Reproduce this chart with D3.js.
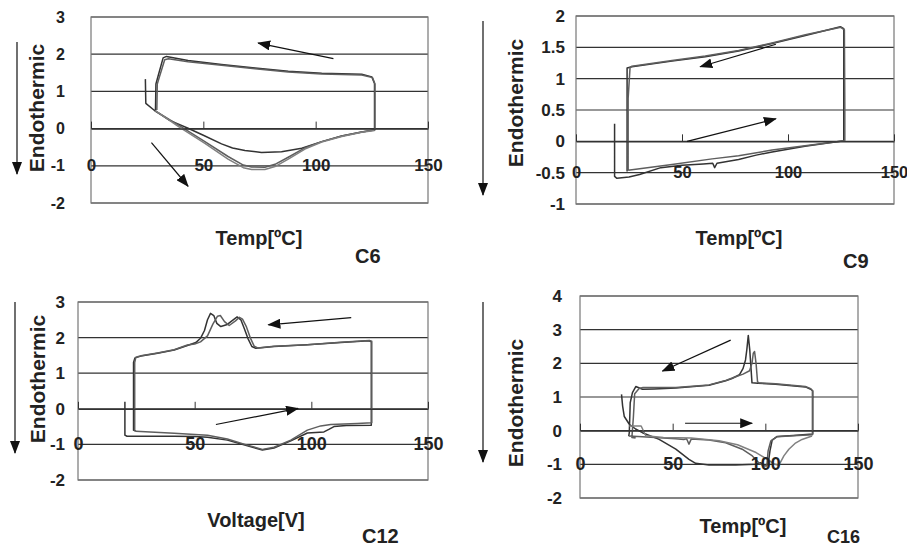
<!DOCTYPE html>
<html>
<head>
<meta charset="utf-8">
<script src="https://cdn.jsdelivr.net/npm/d3@7"></script>
<style>
  body { margin: 0; background: #fff; }
  svg text { font-family: "Liberation Sans", Arial, sans-serif; font-weight: bold; fill: #222; }
</style>
</head>
<body>
<div id="chart"></div>
<script>
// ---- data (x = temp, y = heat flow) ----
var xTicks = [0, 50, 100, 150];

var c6YTicks = [-2, -1, 0, 1, 2, 3];
var c9YTicks = [-1, -0.5, 0, 0.5, 1, 1.5, 2];
var c12YTicks = [-2, -1, 0, 1, 2, 3];
var c16YTicks = [-2, -1, 0, 1, 2, 3, 4];

// C6: first scan (start spike, shallow heating dip) + two repeat scans
var c6Trace1 = [[24.2,1.33],[24.4,0.68],[28.4,0.48],[35,0.22],[43.2,0.01],[50,-0.18],[58.1,-0.41],[63,-0.52],[68.5,-0.59],[75.9,-0.64],[84.8,-0.62],[93.8,-0.53],[102.7,-0.35],[111.6,-0.2],[120.5,-0.09],[126.2,-0.04],
  [126.2,1.21],[125,1.39],[120.5,1.46],[102.7,1.49],[87.8,1.54],[73,1.63],[58.1,1.72],[43.2,1.83],[33.6,1.94],[32.1,1.9],[29.9,1.42],[28.9,1.2],[28.7,0.5]];
var c6Trace2 = [[28.4,0.48],[38.8,0.1],[50.7,-0.35],[61,-0.75],[67.8,-0.98],[71.5,-1.03],[77.4,-1.04],[81.9,-0.96],[87.8,-0.77],[95.2,-0.52],[102.7,-0.35],[111.6,-0.2],[120.5,-0.09],[126.4,-0.03],
  [126.4,1.2],[125.3,1.37],[120.5,1.44],[102.7,1.47],[87.8,1.52],[73,1.61],[58.1,1.7],[43.2,1.8],[34.5,1.88],[32.8,1.85],[30.5,1.4],[29.5,1.2],[29.3,0.5]];
var c6Trace3 = [[28.7,0.48],[38.8,0.06],[50.7,-0.4],[61,-0.82],[67.8,-1.05],[71.5,-1.1],[77.4,-1.1],[81.9,-1.02],[87.8,-0.82],[95.2,-0.55],[102.7,-0.36],[111.6,-0.21],[120.5,-0.1],[126.2,-0.05]];

// C9
var c9Trace1 = [[18.2,0.28],[18.2,-0.56],[19.3,-0.59],[25,-0.57],[30,-0.53],[40,-0.42],[50,-0.38],[60,-0.36],[64.5,-0.35],[65.4,-0.42],[66.5,-0.35],[76.7,-0.29],[85,-0.22],[92.5,-0.17],[108,-0.08],[126.3,0.01],
  [126.3,1.8],[124.7,1.83],[108.2,1.69],[92.5,1.56],[76.7,1.44],[61,1.35],[45.3,1.28],[26.4,1.19],[24.1,1.17],[24.1,-0.48]];
var c9Trace2 = [[24.6,-0.46],[45.3,-0.37],[64.2,-0.28],[76.7,-0.23],[92.5,-0.14],[108,-0.07],[126.8,0.01],[126.8,0.55],[126.6,1.78],[124.9,1.82],
  [108.2,1.7],[92.5,1.57],[76.7,1.45],[61,1.36],[45.3,1.29],[26.4,1.2],[25.5,1.18],[24.6,0.69],[24.6,-0.46]];

// C12
var c12Trace1 = [[20.1,0.2],[20.1,-0.74],[21,-0.77],[30,-0.77],[41.2,-0.77],[50,-0.78],[55.5,-0.8],[64,-0.88],[72.6,-1.04],[79,-1.16],[84,-1.1],[91.2,-0.9],[98.3,-0.68],[105.4,-0.65],[107.5,-0.58],[109.7,-0.5],[115,-0.47],[125.7,-0.46],
  [125.7,1.88],[124.7,1.91],[112.6,1.86],[98.3,1.8],[84,1.75],[76.2,1.7],[74.5,1.75],[72.8,1.98],[71.3,2.25],[69.8,2.5],[68.2,2.58],[66.5,2.5],[64,2.37],[61.2,2.31],[59.5,2.4],[58.2,2.62],[56.8,2.68],[55.5,2.5],[54.2,2.2],[52.5,1.98],[50.5,1.86],[46.9,1.78],[41.2,1.65],[34.1,1.56],[27,1.48],[24.4,1.43],[23.8,1.3],[23.8,-0.6],[24.8,-0.63]];
var c12Trace2 = [[24.8,-0.63],[41.2,-0.69],[55.5,-0.74],[64,-0.85],[72.6,-1.02],[79,-1.14],[84,-1.08],[91.2,-0.88],[98.3,-0.6],[104,-0.48],[108.3,-0.44],[119.7,-0.41],[125.9,-0.39],
  [125.9,1.9],[124.9,1.92],[112.6,1.87],[98.3,1.8],[84,1.76],[77,1.71],[75.5,1.76],[73.8,2.0],[72.2,2.3],[70.5,2.52],[69.2,2.57],[67.5,2.47],[64.8,2.34],[62.8,2.45],[61,2.62],[59.8,2.6],[57.8,2.38],[55.5,2.05],[52.5,1.88],[50,1.82],[46.9,1.79],[41.2,1.66],[34.1,1.57],[27,1.49],[24.8,1.45],[24.3,1.3],[24.3,-0.62]];

// C16
var c16Trace1 = [[22.4,1.08],[23,0.73],[23.9,0.42],[26.6,0.19],[30,0.05],[33.7,-0.06],[42.7,-0.26],[51.7,-0.55],[58.8,-0.85],[62.4,-0.97],[69.6,-1.02],[84,-1.02],[94.7,-1.0],[97.4,-0.95],[99.5,-1.02],[101.5,-1.0],[102.5,-0.6],[103.7,-0.28],[106.4,-0.17],[115,-0.14],[125.6,-0.1],
  [125.6,1.18],[124.5,1.23],[121.6,1.3],[105.5,1.38],[96,1.41],[92.8,1.42],[91.6,2.4],[90.8,2.83],[90,2.4],[89.3,2.1],[88,1.85],[86,1.66],[82,1.55],[78.6,1.48],[69.6,1.35],[51.7,1.27],[40,1.24],[33.7,1.23],[30.1,1.31],[28.3,1.13],[27.1,0.83],[26.6,-0.06],[26.3,-0.16]];
var c16Trace2 = [[26.3,-0.16],[33.7,-0.18],[51.7,-0.24],[56,-0.26],[57.5,-0.24],[58.8,-0.4],[60,-0.25],[69.6,-0.28],[78.6,-0.36],[87.5,-0.55],[93,-0.75],[96.5,-0.95],[99.2,-1.05],[100.8,-1.05],[101.5,-0.6],[103,-0.3],[106.4,-0.18],[115,-0.15],[125.4,-0.12],
  [125.4,1.18],[124.5,1.25],[121.6,1.31],[105.5,1.39],[96.5,1.42],[95.8,1.45],[95,2.0],[94.2,2.35],[93.5,2.3],[92.8,2.0],[91.5,1.78],[88,1.68],[84,1.6],[78.6,1.49],[69.6,1.36],[51.7,1.28],[40,1.28],[34,1.28],[31.9,1.25],[29.5,1.1],[28.8,0.4],[28,-0.2],[30,-0.22]];
var c16Trace3 = [[26.6,0.14],[33,0.14],[35.5,-0.15],[45,-0.2],[60,-0.22],[75,-0.3],[85,-0.42],[95,-0.65],[102,-0.88],[105,-1.0],[107.3,-1.03],[110,-0.75],[112.7,-0.55],[116,-0.38],[119.8,-0.26],[125.2,-0.16]];

var traceColors = ["#333", "#5e5e5e", "#808080"];

// ---- layout per panel (pixels) ----
var panels = [
  { name: "C6", left: 91, right: 428, top: 17, bottom: 203, yTicks: c6YTicks, xLabelAt: -1, yPad: 26, tickFont: 16, xFont: 17,
    traces: [c6Trace1, c6Trace2, c6Trace3], xTitle: "Temp[\u00baC]", xTitlePos: [259, 245], tagPos: [355, 263], tagFont: 20,
    yTitlePos: [44, 108], bigArrow: [17, 42, 174],
    arrows: [[[107.9, 1.88], [74.4, 2.3]], [[26.9, -0.375], [43.2, -1.55]]] },
  { name: "C9", left: 576, right: 894, top: 16, bottom: 204, yTicks: c9YTicks, xLabelAt: -0.5, yPad: 11, tickFont: 17, xFont: 16.5,
    traces: [c9Trace1, c9Trace2], xTitle: "Temp[\u00baC]", xTitlePos: [739, 245], tagPos: [843, 268], tagFont: 20,
    yTitlePos: [523, 103], bigArrow: [483, 21, 195],
    arrows: [[[94.3, 1.55], [58.6, 1.19]], [[52.4, 0], [94.3, 0.36]]] },
  { name: "C12", left: 78, right: 428, top: 302, bottom: 480, yTicks: c12YTicks, xLabelAt: -1, yPad: 13, tickFont: 17, xFont: 18,
    traces: [c12Trace1, c12Trace2], xTitle: "Voltage[V]", xTitlePos: [256, 527], tagPos: [362, 543], tagFont: 20,
    yTitlePos: [45, 379], bigArrow: [15, 302, 453],
    arrows: [[[117.1, 2.56], [81.6, 2.36]], [[59.1, -0.44], [94.3, 0.01]]] },
  { name: "C16", left: 580, right: 858, top: 296, bottom: 498, yTicks: c16YTicks, xLabelAt: -1, yPad: 18, tickFont: 17, xFont: 18,
    traces: [c16Trace1, c16Trace2, c16Trace3], xTitle: "Temp[\u00baC]", xTitlePos: [743, 533], tagPos: [827, 543], tagFont: 18,
    yTitlePos: [523, 403], bigArrow: [483, 302, 462],
    arrows: [[[81.3, 2.69], [44.5, 1.77]], [[56.7, 0.22], [92.9, 0.22]]] }
];

var svg = d3.select("#chart").append("svg")
  .attr("width", 907)
  .attr("height", 549);

var defs = svg.append("defs");
defs.append("marker")
  .attr("id", "head")
  .attr("markerUnits", "userSpaceOnUse")
  .attr("markerWidth", 13).attr("markerHeight", 10)
  .attr("refX", 12).attr("refY", 5)
  .attr("orient", "auto")
  .append("path").attr("d", "M0,0 L13,5 L0,10 Z").attr("fill", "#111");

panels.forEach(function (p) {
  var x = d3.scaleLinear().domain([0, 150]).range([p.left, p.right]);
  var y = d3.scaleLinear().domain(d3.extent(p.yTicks)).range([p.bottom, p.top]);
  var g = svg.append("g");

  // horizontal gridlines
  g.selectAll("line.grid").data(p.yTicks).enter().append("line")
    .attr("class", "grid")
    .attr("x1", p.left).attr("x2", p.right)
    .attr("y1", function (d) { return y(d); })
    .attr("y2", function (d) { return y(d); })
    .attr("stroke", "#333").attr("stroke-width", 1.2);

  g.append("rect")
    .attr("x", p.left).attr("y", p.top)
    .attr("width", p.right - p.left).attr("height", p.bottom - p.top)
    .attr("fill", "none").attr("stroke", "#777").attr("stroke-width", 1.2);

  // scans
  var line = d3.line().x(function (d) { return x(d[0]); }).y(function (d) { return y(d[1]); });
  g.selectAll("path.trace").data(p.traces).enter().append("path")
    .attr("class", "trace")
    .attr("d", line)
    .attr("fill", "none")
    .attr("stroke", function (d, i) { return traceColors[i]; })
    .attr("stroke-width", 1.5)
    .attr("stroke-linejoin", "round");

  // y axis (labels only)
  var ya = g.append("g").attr("transform", "translate(" + p.left + ",0)")
    .call(d3.axisLeft(y).tickValues(p.yTicks).tickSize(0).tickPadding(p.yPad)
      .tickFormat(function (d) { return String(d); }));
  ya.select(".domain").remove();
  ya.selectAll("text").style("font-size", p.tickFont + "px");

  // x axis crosses at 0, labels sit lower down the plot like in the figure
  var xa = g.append("g").attr("transform", "translate(0," + y(0) + ")")
    .call(d3.axisBottom(x).tickValues(xTicks).tickSizeInner(-7).tickSizeOuter(0));
  xa.select(".domain").attr("stroke", "#333").attr("stroke-width", 1.2);
  xa.selectAll(".tick line").attr("stroke", "#333");
  xa.selectAll("text")
    .attr("y", y(p.xLabelAt) - y(0))
    .attr("dy", "0.33em")
    .style("font-size", p.xFont + "px");

  // arrows inside the plot
  p.arrows.forEach(function (a) {
    g.append("line")
      .attr("x1", x(a[0][0])).attr("y1", y(a[0][1]))
      .attr("x2", x(a[1][0])).attr("y2", y(a[1][1]))
      .attr("stroke", "#111").attr("stroke-width", 1.2)
      .attr("marker-end", "url(#head)");
  });

  // "endothermic" arrow on the left
  g.append("line")
    .attr("x1", p.bigArrow[0]).attr("x2", p.bigArrow[0])
    .attr("y1", p.bigArrow[1]).attr("y2", p.bigArrow[2])
    .attr("stroke", "#111").attr("stroke-width", 1.2)
    .attr("marker-end", "url(#head)");

  g.append("text")
    .attr("transform", "translate(" + p.yTitlePos[0] + "," + p.yTitlePos[1] + ") rotate(-90)")
    .attr("text-anchor", "middle")
    .style("font-size", "21px")
    .text("Endothermic");

  g.append("text")
    .attr("x", p.xTitlePos[0]).attr("y", p.xTitlePos[1])
    .attr("text-anchor", "middle")
    .style("font-size", "20px")
    .text(p.xTitle);

  g.append("text")
    .attr("x", p.tagPos[0]).attr("y", p.tagPos[1])
    .style("font-size", p.tagFont + "px")
    .text(p.name);
});
</script>
</body>
</html>
